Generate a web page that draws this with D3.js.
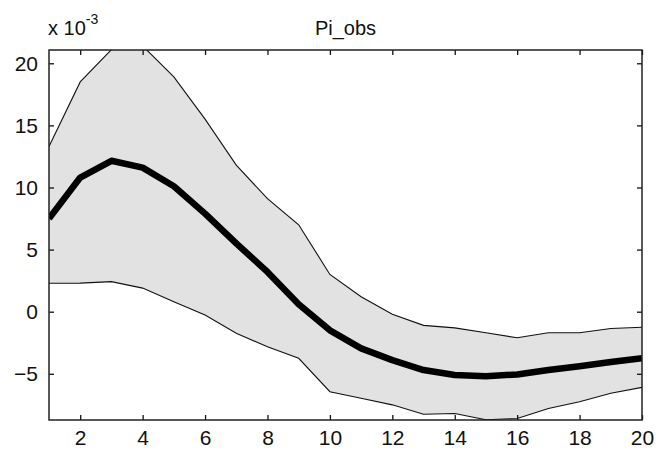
<!DOCTYPE html>
<html>
<head>
<meta charset="utf-8">
<script src="https://cdn.jsdelivr.net/npm/d3@7"></script>
<style>
  html, body { margin: 0; padding: 0; background: #fff; }
  text { font-family: "Liberation Sans", Arial, sans-serif; fill: #111; }
</style>
</head>
<body>
<svg id="chart" width="660" height="450"></svg>
<script>
// ---- data (values in units of 10^-3) ----
const periods = [1,2,3,4,5,6,7,8,9,10,11,12,13,14,15,16,17,18,19,20];
const upperBand = [13.3, 18.5, 21.1, 21.4, 18.9, 15.5, 11.8, 9.1, 7.0, 3.0, 1.2, -0.2, -1.1, -1.3, -1.7, -2.1, -1.7, -1.7, -1.35, -1.25];
const meanLine  = [7.5, 10.8, 12.15, 11.6, 10.1, 7.9, 5.5, 3.2, 0.6, -1.5, -2.95, -3.9, -4.7, -5.1, -5.2, -5.05, -4.7, -4.4, -4.05, -3.75];
const lowerBand = [2.29, 2.3, 2.42, 1.9, 0.8, -0.27, -1.74, -2.82, -3.75, -6.44, -6.97, -7.5, -8.26, -8.2, -8.7, -8.6, -7.8, -7.25, -6.57, -6.09];
const xTicks = [2,4,6,8,10,12,14,16,18,20];
const yTicks = [-5,0,5,10,15,20];
const yDomain = [-8.72, 21.07];
const titleText = "Pi_obs";

const W = 660, H = 450;
const m = {left: 49, right: 18, top: 50, bottom: 30};
const svg = d3.select("#chart");

const x = d3.scaleLinear().domain([1, 20]).range([m.left, W - m.right]);
const y = d3.scaleLinear().domain(yDomain).range([H - m.bottom, m.top]);

svg.append("defs").append("clipPath").attr("id", "clip")
  .append("rect")
  .attr("x", m.left).attr("y", m.top)
  .attr("width", W - m.left - m.right).attr("height", H - m.top - m.bottom);

const rows = periods.map((p, i) => ({p, lo: lowerBand[i], hi: upperBand[i], mu: meanLine[i]}));

const g = svg.append("g").attr("clip-path", "url(#clip)");

g.append("path").datum(rows)
  .attr("d", d3.area().x(d => x(d.p)).y0(d => y(d.lo)).y1(d => y(d.hi)))
  .attr("fill", "#e2e2e2").attr("stroke", "none");

g.append("path").datum(rows)
  .attr("d", d3.line().x(d => x(d.p)).y(d => y(d.hi)))
  .attr("fill", "none").attr("stroke", "#111").attr("stroke-width", 1.1);

g.append("path").datum(rows)
  .attr("d", d3.line().x(d => x(d.p)).y(d => y(d.lo)))
  .attr("fill", "none").attr("stroke", "#111").attr("stroke-width", 1.1);

g.append("path").datum(rows)
  .attr("d", d3.line().x(d => x(d.p)).y(d => y(d.mu)))
  .attr("fill", "none").attr("stroke", "#000").attr("stroke-width", 6.5)
  .attr("stroke-linejoin", "round");

// axes with inward ticks on all sides
const tickLen = 5;
const fs = "21px";
const bottomAxis = d3.axisBottom(x).tickValues(xTicks).tickSizeInner(-tickLen).tickSizeOuter(0).tickPadding(10);
const topAxis = d3.axisTop(x).tickValues(xTicks).tickSizeInner(-tickLen).tickSizeOuter(0).tickFormat("");
const leftAxis = d3.axisLeft(y).tickValues(yTicks).tickSizeInner(-tickLen).tickSizeOuter(0).tickPadding(11);
const rightAxis = d3.axisRight(y).tickValues(yTicks).tickSizeInner(-tickLen).tickSizeOuter(0).tickFormat("");

function style(sel) {
  sel.select(".domain").remove();
  sel.selectAll(".tick line").attr("stroke", "#111").attr("stroke-width", 1.3);
  sel.selectAll("text").style("font-size", fs).attr("fill", "#111");
}
svg.append("g").attr("transform", `translate(0,${H - m.bottom})`).call(bottomAxis).call(style);
svg.append("g").attr("transform", `translate(0,${m.top})`).call(topAxis).call(style);
svg.append("g").attr("transform", `translate(${m.left},0)`).call(leftAxis).call(style);
svg.append("g").attr("transform", `translate(${W - m.right},0)`).call(rightAxis).call(style);

// box
svg.append("rect")
  .attr("x", m.left).attr("y", m.top)
  .attr("width", W - m.left - m.right).attr("height", H - m.top - m.bottom)
  .attr("fill", "none").attr("stroke", "#222").attr("stroke-width", 1.5);

// exponent label
const ex = svg.append("text").attr("x", 48).attr("y", 35).style("font-size", "20px");
ex.append("tspan").text("x 10");
ex.append("tspan").attr("dy", -11).style("font-size", "14px").text("-3");

// title
svg.append("text").attr("x", (m.left + W - m.right) / 2).attr("y", 35)
  .attr("text-anchor", "middle").style("font-size", "20px").text(titleText);
</script>
</body>
</html>
